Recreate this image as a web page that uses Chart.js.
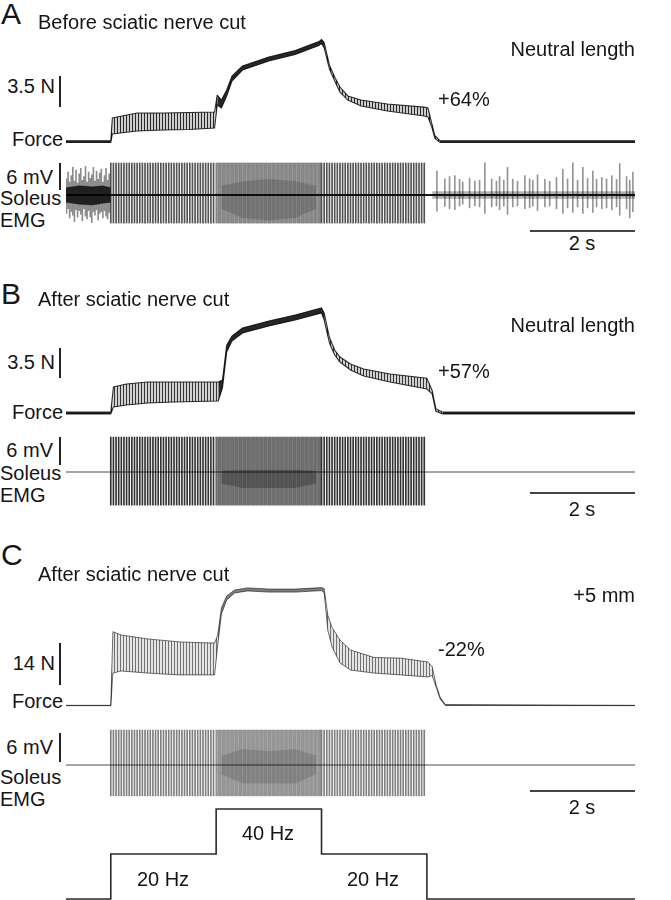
<!DOCTYPE html>
<html>
<head>
<meta charset="utf-8">
<script src="https://cdn.jsdelivr.net/npm/chart.js@4/dist/chart.umd.min.js"></script>
<style>
  html, body { margin: 0; padding: 0; background: #fff; }
  #wrap { position: relative; width: 671px; height: 900px; overflow: hidden; background: #fff;
          font-family: "Liberation Sans", Arial, Helvetica, sans-serif; color: #151515; }
  canvas { position: absolute; }
  .t { position: absolute; line-height: 1; white-space: nowrap; }
  .bar { position: absolute; background: #222; }
</style>
</head>
<body>
<div id="wrap"></div>
<script>
// ---------------- DATA ----------------
const timeRange = [-0.85, 9.95];               // s, relative to stimulus onset
const stimOnsets = [0, 2, 4];
const stimOffsets = [2, 4, 6];
const stimRates = [20, 40, 20];                 // Hz
const stimLabels = ['20 Hz', '40 Hz', '20 Hz'];
const stimTraceT = [-0.85, 0, 2, 4, 6, 9.95];
const stimTraceLevel = [0, 1, 2, 1, 0, 0];

// Force A (N), envelope of the trace
const forceA_t  = [-0.85, 0.0, 0.03, 0.5, 1.0, 1.5, 1.97, 2.02, 2.1, 2.2, 2.3, 2.5, 3.0, 3.5, 3.95, 4.0, 4.05, 4.15, 4.25, 4.35, 4.5, 4.75, 5.25, 5.95, 6.02, 6.1, 6.15, 6.25, 9.95];
const forceA_hi = [0.1, 0.1, 2.67, 3.24, 3.24, 3.3, 3.35, 5.27, 4.7, 5.83, 7.4, 8.54, 9.56, 10.3, 11.3, 11.53, 11.2, 8.66, 7.3, 6.17, 5.16, 4.7, 4.25, 3.9, 3.8, 1.9, 0.7, 0.1, 0.1];
const forceA_lo = [-0.1, -0.1, 0.87, 1.21, 1.32, 1.38, 1.55, 4.14, 3.8, 5.16, 6.85, 8.09, 9.1, 9.84, 10.86, 11.08, 10.6, 8.2, 6.85, 5.6, 4.7, 4.03, 3.46, 2.9, 2.8, 1.5, 0.4, -0.1, -0.1];

// Force B (N)
const forceB_t  = [-0.85, 0.0, 0.05, 0.3, 0.7, 1.2, 2.04, 2.12, 2.2, 2.3, 2.5, 3.0, 3.5, 4.0, 4.05, 4.15, 4.25, 4.35, 4.55, 4.8, 5.3, 6.0, 6.1, 6.17, 6.3, 9.95];
const forceB_hi = [0.1, 0.1, 3.0, 3.33, 3.56, 3.56, 3.56, 3.8, 7.8, 8.85, 9.77, 10.57, 11.26, 12.07, 11.5, 8.7, 7.24, 6.44, 5.63, 5.06, 4.48, 4.0, 2.6, 0.5, 0.1, 0.1];
const forceB_lo = [-0.1, -0.1, 0.69, 0.92, 1.15, 1.26, 1.38, 2.9, 7.0, 8.28, 9.2, 10.0, 10.7, 11.5, 10.7, 8.05, 6.67, 5.86, 4.94, 4.25, 3.56, 2.76, 2.2, 0.2, -0.1, -0.1];

// Force C (N)
const forceC_t  = [-0.85, 0.0, 0.04, 0.2, 0.7, 1.3, 1.97, 2.03, 2.1, 2.2, 2.35, 2.6, 3.0, 3.5, 4.0, 4.05, 4.12, 4.2, 4.35, 4.55, 5.0, 5.5, 6.02, 6.1, 6.17, 6.25, 6.35, 9.95];
const forceC_hi = [0.05, 0.05, 24.6, 23.5, 22.2, 21.2, 20.8, 23.5, 32.5, 36.5, 38.5, 39.2, 38.8, 38.8, 39.3, 39.0, 30, 26, 21.8, 18.5, 16, 15.8, 14.5, 13, 7.2, 2.8, 0.3, 0.05];
const forceC_lo = [-0.05, -0.05, 10.8, 11.5, 10.8, 10.2, 10.2, 20.2, 30.5, 35.2, 37.5, 38.2, 37.8, 37.8, 38.3, 37.5, 25, 19.5, 14.2, 11.8, 10.8, 10.2, 9.5, 10, 6.4, 2.2, 0, -0.05];

// EMG evoked spike extent per stimulus segment (mV)
const emgA_spikeHi = [6.96, 6.96, 6.96];
const emgA_spikeLo = [-6.1, -6.1, -6.1];
const emgB_spikeHi = [7.6, 7.6, 7.6];
const emgB_spikeLo = [-7.2, -7.2, -7.2];
const emgC_spikeHi = [7.6, 7.6, 7.6];
const emgC_spikeLo = [-6.7, -6.7, -6.7];

// EMG activity cloud during 40 Hz (mV)
const emgCloud_t = [2.1, 2.5, 3.0, 3.5, 3.9];
const emgA_cloudHi = [2, 3, 3.5, 3, 2];
const emgA_cloudLo = [-3, -5, -5.5, -5, -3];
const emgB_cloudHi = [0.3, 0.5, 0.5, 0.5, 0.3];
const emgB_cloudLo = [-2.5, -3.5, -3.5, -3.5, -2.5];
const emgC_cloudHi = [2, 3.5, 3, 3.5, 2];
const emgC_cloudLo = [-2, -4, -4, -4, -2];

// EMG A spontaneous activity before stimulation
const emgA_preT  = [-0.84, -0.81, -0.78, -0.75, -0.72, -0.69, -0.66, -0.63, -0.60, -0.57, -0.54, -0.51, -0.48, -0.45, -0.42, -0.39, -0.36, -0.33, -0.30, -0.27, -0.24, -0.21, -0.18, -0.15, -0.12, -0.09, -0.06, -0.03];
const emgA_preHi = [3.5, 5.0, 2.8, 4.2, 6.0, 3.0, 5.4, 2.6, 4.6, 5.8, 3.2, 4.0, 6.2, 2.8, 5.0, 3.6, 4.4, 6.0, 3.0, 5.2, 3.4, 4.8, 5.6, 2.8, 4.2, 5.8, 3.2, 4.6];
const emgA_preLo = [-4.0, -3.0, -5.0, -3.6, -4.4, -5.8, -3.2, -4.8, -3.4, -4.2, -5.6, -3.0, -4.6, -5.2, -3.4, -4.8, -6.0, -3.6, -4.4, -3.2, -5.4, -4.0, -3.6, -5.0, -3.4, -4.6, -5.2, -3.8];
const emgA_preCoreT  = [-0.85, -0.6, -0.35, -0.15, 0.0];
const emgA_preCoreHi = [1.6, 2.0, 1.8, 2.0, 1.6];
const emgA_preCoreLo = [-1.6, -2.0, -2.2, -1.8, -1.6];

// EMG A spontaneous spikes after stimulation
const emgA_postT  = [6.19, 6.34, 6.43, 6.53, 6.62, 6.68, 6.81, 6.91, 7.00, 7.10, 7.23, 7.32, 7.38, 7.46, 7.53, 7.63, 7.72, 7.86, 7.95, 8.01, 8.10, 8.24, 8.33, 8.46, 8.58, 8.67, 8.77, 8.86, 8.96, 9.05, 9.15, 9.22, 9.32, 9.41, 9.51, 9.60, 9.66, 9.79, 9.85, 9.91];
const emgA_postHi = [5.2, 3.5, 4.0, 4.2, 3.4, 2.8, 3.6, 3.0, 3.2, 7.0, 3.5, 3.0, 4.0, 3.2, 6.0, 3.4, 3.0, 4.2, 3.5, 3.2, 4.4, 3.4, 3.0, 3.8, 5.6, 3.5, 7.0, 3.2, 6.0, 3.6, 5.2, 3.4, 3.8, 3.5, 4.2, 3.4, 6.8, 4.0, 3.2, 5.0];
const emgA_postLo = [-3.5, -2.5, -3.0, -3.2, -2.4, -2.0, -2.8, -2.4, -2.6, -4.0, -2.6, -2.4, -3.2, -2.4, -4.2, -2.6, -2.4, -3.0, -2.8, -2.4, -3.4, -2.6, -2.4, -3.0, -4.0, -2.8, -3.8, -2.6, -4.0, -2.8, -3.8, -2.6, -3.0, -2.8, -3.2, -2.6, -4.4, -3.0, -5.0, -3.6];
const emgA_postCoreT = [6.1, 9.95];
const emgA_postCoreHi = [0.8, 0.8];
const emgA_postCoreLo = [-0.8, -0.8];

// ---------------- HELPERS ----------------
const wrap = document.getElementById('wrap');
const PLOT_LEFT = 66, PLOT_W = 569;

function pts(t, v) { return t.map((x, i) => ({ x: x, y: v[i] })); }

function stripe(dark, light) {
  const c = document.createElement('canvas'); c.width = 3; c.height = 1;
  const g = c.getContext('2d');
  g.fillStyle = light; g.fillRect(0, 0, 3, 1);
  g.fillStyle = dark; g.fillRect(0, 0, 1, 1);
  return g.createPattern(c, 'repeat');
}

// band whose fill is striped during 20 Hz and solid elsewhere (fused 40 Hz tetanus / rest)
function forceBand(t, hi, lo, stripeFill, solidFill, edgeCol, edgeW) {
  const solidSeg = (ctx) => {
    const a = ctx.p0.parsed.x;
    return (a < stimOnsets[0]) || (a >= stimOnsets[1] && a < stimOffsets[1] + 0.04) || (a >= stimOffsets[2] + 0.2);
  };
  return [
    { type: 'line', data: pts(t, hi), fill: '+1', backgroundColor: stripeFill, borderColor: edgeCol,
      borderWidth: edgeW, pointRadius: 0, tension: 0,
      segment: { backgroundColor: ctx => solidSeg(ctx) ? solidFill : stripeFill } },
    { type: 'line', data: pts(t, lo), fill: false, borderColor: edgeCol,
      borderWidth: edgeW, pointRadius: 0, tension: 0 }
  ];
}

function band(t, hi, lo, fillCol, edgeCol, edgeW) {
  return [
    { type: 'line', data: pts(t, hi), fill: '+1', backgroundColor: fillCol, borderColor: edgeCol,
      borderWidth: edgeW, pointRadius: 0, tension: 0 },
    { type: 'line', data: pts(t, lo), fill: false, borderColor: edgeCol,
      borderWidth: edgeW, pointRadius: 0, tension: 0 }
  ];
}

function pulseTimes(seg) {
  const out = [];
  const n = Math.round((stimOffsets[seg] - stimOnsets[seg]) * stimRates[seg]);
  for (let k = 0; k < n; k++) out.push(stimOnsets[seg] + k / stimRates[seg]);
  return out;
}

function spikes(t, hi, lo, col) {
  return { type: 'bar', data: t.map((x, i) => ({ x: x, y: [lo[i], hi[i]] })),
           backgroundColor: col, borderWidth: 0, barThickness: 1, grouped: false };
}

function evoked(seg, hiArr, loArr, col) {
  const t = pulseTimes(seg);
  return spikes(t, t.map(() => hiArr[seg]), t.map(() => loArr[seg]), col);
}

function baseline(col, w) {
  return { type: 'line', data: [{ x: timeRange[0], y: 0 }, { x: timeRange[1], y: 0 }],
           borderColor: col, borderWidth: w, pointRadius: 0, fill: false };
}

function makeChart(top, height, ymin, ymax, datasets) {
  const c = document.createElement('canvas');
  c.width = PLOT_W; c.height = height;
  c.style.left = PLOT_LEFT + 'px'; c.style.top = top + 'px';
  c.style.width = PLOT_W + 'px'; c.style.height = height + 'px';
  wrap.appendChild(c);
  datasets.forEach(d => { d.clip = false; });
  new Chart(c.getContext('2d'), {
    type: 'line',
    data: { datasets: datasets },
    options: {
      responsive: false, animation: false, devicePixelRatio: 1,
      layout: { padding: 0 },
      plugins: { legend: { display: false }, tooltip: { enabled: false } },
      scales: {
        x: { type: 'linear', min: timeRange[0], max: timeRange[1], display: false, offset: false },
        y: { type: 'linear', min: ymin, max: ymax, display: false }
      }
    }
  });
}

function txt(s, x, y, size, align) {
  const d = document.createElement('div');
  d.className = 't';
  d.textContent = s;
  d.style.fontSize = size + 'px';
  d.style.top = y + 'px';
  if (align === 'right') { d.style.right = (671 - x) + 'px'; d.style.transform = 'translateY(-50%)'; }
  else if (align === 'center') { d.style.left = x + 'px'; d.style.transform = 'translate(-50%,-50%)'; }
  else { d.style.left = x + 'px'; d.style.transform = 'translateY(-50%)'; }
  wrap.appendChild(d);
}

function vbar(x, y1, y2) {
  const d = document.createElement('div'); d.className = 'bar';
  d.style.left = (x - 1) + 'px'; d.style.top = y1 + 'px'; d.style.width = '1.6px'; d.style.height = (y2 - y1) + 'px';
  wrap.appendChild(d);
}
function hbar(x1, x2, y) {
  const d = document.createElement('div'); d.className = 'bar';
  d.style.left = x1 + 'px'; d.style.top = (y - 0.75) + 'px'; d.style.width = (x2 - x1) + 'px'; d.style.height = '1.5px';
  d.style.background = '#444';
  wrap.appendChild(d);
}

// ---------------- PANEL A ----------------
makeChart(30, 120, -0.94, 12.61,
  forceBand(forceA_t, forceA_hi, forceA_lo, stripe('rgba(0,0,0,0.8)', 'rgba(0,0,0,0.2)'), 'rgba(0,0,0,0.85)', 'rgba(0,0,0,0.8)', 1.1));

makeChart(158, 72, -7.61, 8.04, [
  ...band(emgCloud_t, emgA_cloudHi, emgA_cloudLo, 'rgba(0,0,0,0.16)', 'rgba(0,0,0,0)', 0),
  ...band(emgA_postCoreT, emgA_postCoreHi, emgA_postCoreLo, 'rgba(0,0,0,0.3)', 'rgba(0,0,0,0)', 0),
  spikes(emgA_preT, emgA_preHi, emgA_preLo, 'rgba(0,0,0,0.45)'),
  ...band(emgA_preCoreT, emgA_preCoreHi, emgA_preCoreLo, 'rgba(0,0,0,0.78)', 'rgba(0,0,0,0.3)', 1),
  evoked(0, emgA_spikeHi, emgA_spikeLo, 'rgba(0,0,0,0.68)'),
  evoked(1, emgA_spikeHi, emgA_spikeLo, 'rgba(0,0,0,0.4)'),
  evoked(2, emgA_spikeHi, emgA_spikeLo, 'rgba(0,0,0,0.68)'),
  spikes(emgA_postT, emgA_postHi, emgA_postLo, 'rgba(0,0,0,0.42)'),
  baseline('rgba(0,0,0,0.9)', 2)
]);

// ---------------- PANEL B ----------------
makeChart(300, 120, -0.80, 12.99,
  forceBand(forceB_t, forceB_hi, forceB_lo, stripe('rgba(0,0,0,0.75)', 'rgba(0,0,0,0.18)'), 'rgba(0,0,0,0.85)', 'rgba(0,0,0,0.8)', 1.1));

makeChart(432, 78, -8.26, 8.70, [
  ...band(emgCloud_t, emgB_cloudHi, emgB_cloudLo, 'rgba(0,0,0,0.25)', 'rgba(0,0,0,0)', 0),
  evoked(0, emgB_spikeHi, emgB_spikeLo, 'rgba(0,0,0,0.8)'),
  evoked(1, emgB_spikeHi, emgB_spikeLo, 'rgba(0,0,0,0.5)'),
  evoked(2, emgB_spikeHi, emgB_spikeLo, 'rgba(0,0,0,0.8)'),
  baseline('rgba(0,0,0,0.7)', 1)
]);

// ---------------- PANEL C ----------------
makeChart(578, 134, -2.17, 42.5,
  forceBand(forceC_t, forceC_hi, forceC_lo, stripe('rgba(0,0,0,0.5)', 'rgba(0,0,0,0.1)'), 'rgba(0,0,0,0.5)', 'rgba(0,0,0,0.55)', 1));

makeChart(726, 74, -7.61, 8.48, [
  ...band(emgCloud_t, emgC_cloudHi, emgC_cloudLo, 'rgba(0,0,0,0.14)', 'rgba(0,0,0,0)', 0),
  evoked(0, emgC_spikeHi, emgC_spikeLo, 'rgba(0,0,0,0.5)'),
  evoked(1, emgC_spikeHi, emgC_spikeLo, 'rgba(0,0,0,0.35)'),
  evoked(2, emgC_spikeHi, emgC_spikeLo, 'rgba(0,0,0,0.5)'),
  baseline('rgba(0,0,0,0.7)', 1)
]);

// Stimulus pattern
makeChart(800, 100, -0.022, 2.2, [
  { type: 'line', data: pts(stimTraceT, stimTraceLevel), stepped: 'before',
    borderColor: '#2a2a2a', borderWidth: 1.6, pointRadius: 0, fill: false }
]);

// ---------------- TEXT & SCALE BARS ----------------
const FS = 20;
// A
txt('A', 1, 14, 30, 'left');
txt('Before sciatic nerve cut', 38, 21.5, FS, 'left');
txt('Neutral length', 635, 48.5, FS, 'right');
txt('3.5 N', 55, 86, FS, 'right');  vbar(60, 76, 107);
txt('+64%', 438, 98.5, FS, 'left');
txt('Force', 12, 139, FS, 'left');
txt('6 mV', 53, 176.5, FS, 'right'); vbar(60, 163, 190);
txt('Soleus', 0, 198, FS, 'left');
txt('EMG', 0, 220, FS, 'left');
hbar(530, 635, 231); txt('2 s', 582, 242.5, FS, 'center');
// B
txt('B', 1, 294, 30, 'left');
txt('After sciatic nerve cut', 38, 299, FS, 'left');
txt('Neutral length', 635, 325, FS, 'right');
txt('3.5 N', 55, 361.5, FS, 'right'); vbar(60, 348, 378);
txt('+57%', 438, 370.5, FS, 'left');
txt('Force', 12, 411.5, FS, 'left');
txt('6 mV', 53, 450, FS, 'right'); vbar(60, 437, 465);
txt('Soleus', 0, 473, FS, 'left');
txt('EMG', 0, 495, FS, 'left');
hbar(530, 635, 493); txt('2 s', 582, 508.5, FS, 'center');
// C
txt('C', 1, 555, 30, 'left');
txt('After sciatic nerve cut', 38, 574, FS, 'left');
txt('+5 mm', 635, 595, FS, 'right');
txt('14 N', 55, 663, FS, 'right'); vbar(60, 643, 685);
txt('-22%', 438, 648.5, FS, 'left');
txt('Force', 12, 700.5, FS, 'left');
txt('6 mV', 53, 746.5, FS, 'right'); vbar(60, 733, 762);
txt('Soleus', 0, 776.5, FS, 'left');
txt('EMG', 0, 799, FS, 'left');
hbar(530, 635, 791); txt('2 s', 582, 807, FS, 'center');
// stimulus labels
txt(stimLabels[0], 163, 878.5, FS, 'center');
txt(stimLabels[1], 268, 833, FS, 'center');
txt(stimLabels[2], 373, 878.5, FS, 'center');
</script>
</body>
</html>
